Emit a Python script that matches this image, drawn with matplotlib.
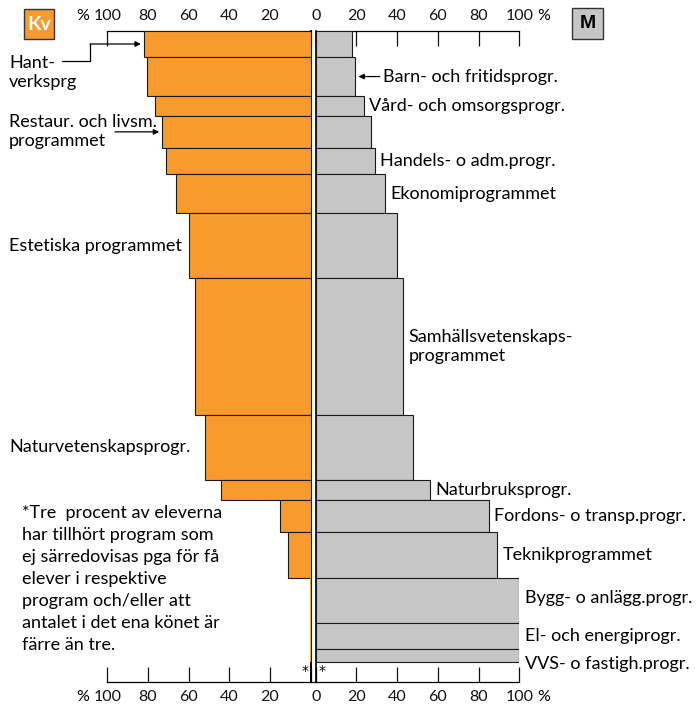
import matplotlib
matplotlib.use('Agg')
from matplotlib import pyplot as plt
from matplotlib.patches import Rectangle
from matplotlib.lines import Line2D
from matplotlib.transforms import blended_transform_factory
import numpy as np

plt.rcParams['font.family'] = ['Lato', 'DejaVu Sans']

# programmes, top to bottom
labels = ['Hant-\nverksprg', 'Barn- och fritidsprogr.', 'Vård- och omsorgsprogr.',
          'Restaur. och livsm.\nprogrammet', 'Handels- o adm.progr.', 'Ekonomiprogrammet',
          'Estetiska programmet', 'Samhällsvetenskaps-\nprogrammet', 'Naturvetenskapsprogr.',
          'Naturbruksprogr.', 'Fordons- o transp.progr.', 'Teknikprogrammet',
          'Bygg- o anlägg.progr.', 'El- och energiprogr.', 'VVS- o fastigh.progr.']
# share of all pupils in each programme (bar thickness), %
share = [4, 6, 3, 5, 4, 6, 10, 21, 10, 3, 5, 7, 7, 4, 2]
# share women / men within programme, %
women = [82, 80.5, 76.5, 73, 71, 66, 60, 57, 52, 44, 15, 11, 0.5, 0.5, 0.5]
men = [18, 19.5, 23.5, 27, 29, 34, 40, 43, 48, 56, 85, 89, 100, 100, 100]
ticks = [0, 20, 40, 60, 80, 100]
left_tick_labels = ['', '20', '40', '60', '80', '100']
right_tick_labels = ['0', '20', '40', '60', '80', '100']

footnote = ('*Tre  procent av eleverna\nhar tillhört program som\nej särredovisas pga för få\n'
            'elever i respektive\nprogram och/eller att\nantalet i det ena könet är\nfärre än tre.')

ORANGE = '#F89A2C'
GREY = '#C6C6C6'
EDGE = '#1a1a1a'
FS = 13

W, H = 700, 707
fig = plt.figure(figsize=(7, 7.07), dpi=100)


def rect(x0, y0, x1, y1):
    return [x0 / W, 1 - y1 / H, (x1 - x0) / W, (y1 - y0) / H]


ax_l = fig.add_axes(rect(107.3, 31, 310.7, 681.7))
ax_r = fig.add_axes(rect(315.7, 31, 519.3, 681.7))

bottoms = np.concatenate([[0], np.cumsum(share)[:-1]])
centers = bottoms + np.array(share) / 2
lw_l = [0.8 if w > 1 else 0 for w in women]

ax_l.barh(bottoms, women, height=share, align='edge', color=ORANGE,
          edgecolor=EDGE, linewidth=lw_l, zorder=3)
ax_r.barh(bottoms, men, height=share, align='edge', color=GREY,
          edgecolor=EDGE, linewidth=0.8, zorder=3)

ax_l.set_xlim(100, 0)
ax_r.set_xlim(0, 100)
for ax, tl in ((ax_l, left_tick_labels), (ax_r, right_tick_labels)):
    ax.set_ylim(100, 0)
    ax.set_yticks([])
    ax.set_xticks(ticks)
    ax.set_xticklabels(tl)
    ax.tick_params(axis='x', direction='in', length=11, width=0.9, top=True, bottom=True,
                   labeltop=True, labelbottom=True, pad=6, labelsize=11.5, colors='#111111')
    ax.set_axisbelow(True)
    ax.patch.set_visible(False)
    for s in ax.spines.values():
        s.set_linewidth(0.9)
ax_l.spines['left'].set_visible(False)
ax_l.spines['right'].set_linewidth(1.4)
ax_r.spines['right'].set_visible(False)
ax_r.spines['left'].set_linewidth(1.2)

# join bottom axis lines across the gap
fig.add_artist(Line2D([310.7 / W, 315.7 / W], [1 - 681.7 / H] * 2, color='k', lw=0.9))

# percent signs next to the 100 ticks
for ax, side in ((ax_l, -1), (ax_r, 1)):
    tr = ax.get_xaxis_transform()
    ha = 'right' if side < 0 else 'left'
    ax.annotate('%', xy=(100, 1), xycoords=tr, xytext=(side * 13, 6), textcoords='offset points',
                ha=ha, va='bottom', fontsize=11.5)
    ax.annotate('%', xy=(100, 0), xycoords=tr, xytext=(side * 13, -6), textcoords='offset points',
                ha=ha, va='top', fontsize=11.5)

# stars for the unreported 3 %
ax_l.text(1.2, 98.3, '*', ha='right', va='center', fontsize=10, family='DejaVu Sans')
ax_r.text(1.2, 98.3, '*', ha='left', va='center', fontsize=10, family='DejaVu Sans')

# left side labels
tr_l = blended_transform_factory(fig.transFigure, ax_l.transData)
x_txt = 9 / W
ax_l.text(x_txt, 6.4, labels[0], transform=tr_l, ha='left', va='center', fontsize=FS)
fig.add_artist(Line2D([62 / W, 90 / W, 90 / W], [4.6, 4.6, centers[0]], transform=tr_l,
                      color='k', lw=0.9))
ax_l.annotate('', xy=(women[0] + 1.5, centers[0]), xytext=(90 / W, centers[0]), textcoords=tr_l,
              arrowprops=dict(arrowstyle='-|>', color='k', lw=0.9, mutation_scale=8,
                              shrinkA=0, shrinkB=0))
ax_l.text(x_txt, centers[3] - 0.1, labels[3], transform=tr_l, ha='left', va='center', fontsize=FS)
ax_l.annotate('', xy=(women[3] + 1.5, centers[3]), xytext=(115 / W, centers[3]), textcoords=tr_l,
              arrowprops=dict(arrowstyle='-|>', color='k', lw=0.9, mutation_scale=8,
                              shrinkA=0, shrinkB=0))
for i in (6, 8):
    ax_l.text(x_txt, centers[i], labels[i], transform=tr_l, ha='left', va='center', fontsize=FS)

# right side labels
ax_r.annotate('', xy=(men[1] + 1.5, centers[1]), xytext=(men[1] + 12, centers[1]),
              arrowprops=dict(arrowstyle='-|>', color='k', lw=0.9, mutation_scale=8,
                              shrinkA=0, shrinkB=0))
ax_r.text(men[1] + 13.5, centers[1], labels[1], ha='left', va='center', fontsize=FS)
dy = {14: -6, 12: 2}
for i in (2, 4, 5, 7, 9, 10, 11, 12, 13, 14):
    ax_r.annotate(labels[i], xy=(men[i], centers[i]), xytext=(4, dy.get(i, 0)),
                  textcoords='offset points', ha='left', va='center', fontsize=FS)

# footnote
fig.text(22 / W, 1 - 505 / H, footnote, ha='left', va='top', fontsize=FS, linespacing=1.46)

# Kv / M boxes
fig.add_artist(Rectangle((24 / W, 1 - 39 / H), 30 / W, 30 / H, transform=fig.transFigure,
                         facecolor=ORANGE, edgecolor='#333333', lw=1))
fig.text(39 / W, 1 - 24 / H, 'Kv', ha='center', va='center', fontsize=14,
         fontweight='bold', color='white')
fig.add_artist(Rectangle((572 / W, 1 - 39 / H), 31 / W, 31 / H, transform=fig.transFigure,
                         facecolor=GREY, edgecolor='#333333', lw=1))
fig.text(587.5 / W, 1 - 23.5 / H, 'M', ha='center', va='center', fontsize=14,
         fontweight='bold', color='black', family=['Liberation Sans', 'DejaVu Sans'])

plt.savefig('out.png', dpi=100)
